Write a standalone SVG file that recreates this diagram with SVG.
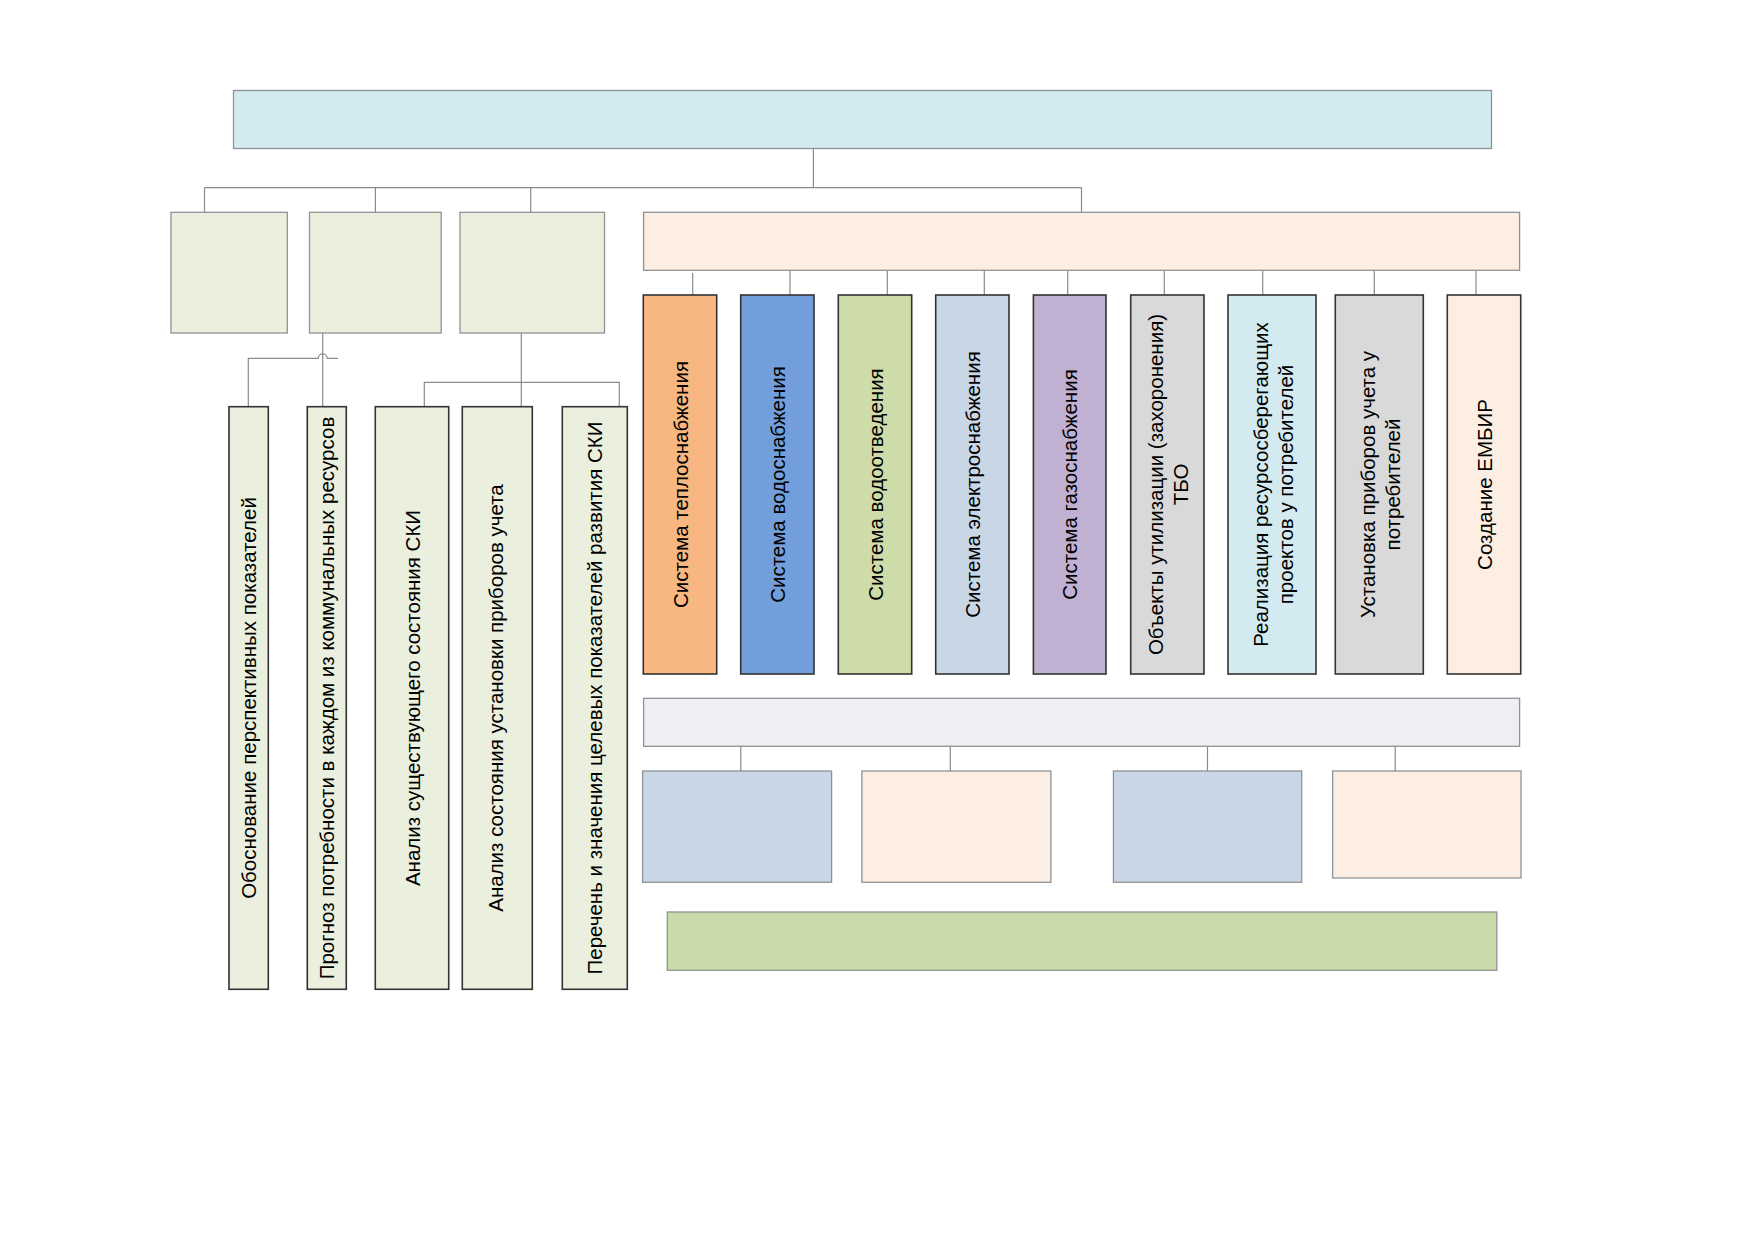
<svg xmlns="http://www.w3.org/2000/svg" width="1752" height="1239" viewBox="0 0 1752 1239">
<style>
.lt{stroke:#8f9396;stroke-width:1.3}
.dk{stroke:#333;stroke-width:1.6}
.cn{fill:none;stroke:#8a8a8a;stroke-width:1.2}
text{font-family:"Liberation Sans",Arial,sans-serif;font-size:20.5px;fill:#000;text-anchor:middle;dominant-baseline:central}
</style>
<rect width="1752" height="1239" fill="#fff"/>
<g id="connectors">
<path class="cn" d="M813.4 148.6V187.7M204.5 187.7H1081.5M204.5 187.7V212.3M375.4 187.7V212.3M530.7 187.7V212.3M1081.5 187.7V212.3"/>
<path class="cn" d="M692.7 273V295M790 270.4V295M887.3 270.4V295M984.3 270.4V295M1067.7 270.4V295M1164.3 270.4V295M1262.7 270.4V295M1374.3 270.4V295M1476 270.4V295"/>
<path class="cn" d="M322.7 333V406.7M248.3 406.7V358.3H318.2A4.5 4.5 0 0 1 327.2 358.3H338"/>
<path class="cn" d="M521.3 333V406.7M424.3 406.7V382.3H619.3V406.7"/>
<path class="cn" d="M740.8 746.4V771M950.3 746.4V771M1207.5 746.4V771M1395.2 746.4V771"/>
</g>
<g id="top"><rect class="lt" x="233.5" y="90.5" width="1258" height="58" fill="#d3eaf0"/></g>
<g id="l2a"><rect class="lt" x="171" y="212.3" width="116.3" height="120.7" fill="#ebefde" stroke="#a9aca2"/></g>
<g id="l2b"><rect class="lt" x="309.5" y="212.3" width="131.7" height="120.7" fill="#ebefde"/></g>
<g id="l2c"><rect class="lt" x="460" y="212.3" width="144.5" height="120.7" fill="#ebefde"/></g>
<g id="peach"><rect class="lt" x="643.6" y="212.3" width="876" height="58" fill="#fdeee3"/></g>
<g id="s1"><rect class="dk" x="643.3" y="295" width="73.4" height="379" fill="#f8b781"/><text transform="translate(680 484.5) rotate(-90)">Система теплоснабжения</text></g>
<g id="s2"><rect class="dk" x="740.7" y="295" width="73.3" height="379" fill="#729fdb"/><text transform="translate(777.3 484.5) rotate(-90)">Система водоснабжения</text></g>
<g id="s3"><rect class="dk" x="838.3" y="295" width="73.4" height="379" fill="#cddca9"/><text transform="translate(875 484.5) rotate(-90)">Система водоотведения</text></g>
<g id="s4"><rect class="dk" x="935.7" y="295" width="73.3" height="379" fill="#c9d6e6"/><text transform="translate(972.3 484.5) rotate(-90)">Система электроснабжения</text></g>
<g id="s5"><rect class="dk" x="1033.4" y="295" width="72.6" height="379" fill="#c0b1d3"/><text transform="translate(1069.7 484.5) rotate(-90)">Система газоснабжения</text></g>
<g id="s6"><rect class="dk" x="1130.7" y="295" width="73.3" height="379" fill="#d9d9d9"/><text transform="translate(1167.3 484.5) rotate(-90)"><tspan x="0" y="-12.5">Объекты утилизации (захоронения)</tspan><tspan x="0" y="12.5">ТБО</tspan></text></g>
<g id="s7"><rect class="dk" x="1228" y="295" width="88" height="379" fill="#d3eaf0"/><text transform="translate(1272 484.5) rotate(-90)"><tspan x="0" y="-12.5">Реализация ресурсосберегающих</tspan><tspan x="0" y="12.5">проектов у потребителей</tspan></text></g>
<g id="s8"><rect class="dk" x="1335.3" y="295" width="88" height="379" fill="#d9d9d9"/><text transform="translate(1379.3 484.5) rotate(-90)"><tspan x="0" y="-12.5">Установка приборов учета у</tspan><tspan x="0" y="12.5">потребителей</tspan></text></g>
<g id="s9"><rect class="dk" x="1447.3" y="295" width="73.4" height="379" fill="#fdeee3"/><text transform="translate(1484 484.5) rotate(-90)">Создание ЕМБИР</text></g>
<g id="L1"><rect class="dk" x="229" y="406.7" width="39.3" height="582.6" fill="#ebefde" stroke="#444"/><text transform="translate(248.6 698) rotate(-90)">Обоснование перспективных показателей</text></g>
<g id="L2"><rect class="dk" x="307.3" y="406.7" width="39" height="582.6" fill="#ebefde"/><text transform="translate(326.5 698) rotate(-90)">Прогноз потребности в каждом из коммунальных ресурсов</text></g>
<g id="L3"><rect class="dk" x="375.3" y="406.7" width="73.4" height="582.6" fill="#ebefde"/><text transform="translate(412 698) rotate(-90)">Анализ существующего состояния СКИ</text></g>
<g id="L4"><rect class="dk" x="462.3" y="406.7" width="70" height="582.6" fill="#ebefde"/><text transform="translate(495 698) rotate(-90)">Анализ состояния установки приборов учета</text></g>
<g id="L5"><rect class="dk" x="562.3" y="406.7" width="65" height="582.6" fill="#ebefde"/><text transform="translate(594.8 698) rotate(-90)">Перечень и значения целевых показателей развития СКИ</text></g>
<g id="lav"><rect class="lt" x="643.6" y="698.3" width="876" height="48" fill="#efeef3"/></g>
<g id="b1"><rect class="lt" x="642.6" y="771" width="189" height="111.3" fill="#c9d6e5" stroke="#7f8790"/></g>
<g id="b2"><rect class="lt" x="861.9" y="771" width="189" height="111.3" fill="#fdeee3"/></g>
<g id="b3"><rect class="lt" x="1113.4" y="771" width="188.3" height="111.3" fill="#c9d6e5" stroke="#7f8790"/></g>
<g id="b4"><rect class="lt" x="1332.6" y="771" width="188.4" height="107" fill="#fdeee3"/></g>
<g id="green"><rect class="lt" x="667.3" y="912" width="829.5" height="58.3" fill="#cbdaa9" stroke="#8c9a80"/></g>
</svg>
